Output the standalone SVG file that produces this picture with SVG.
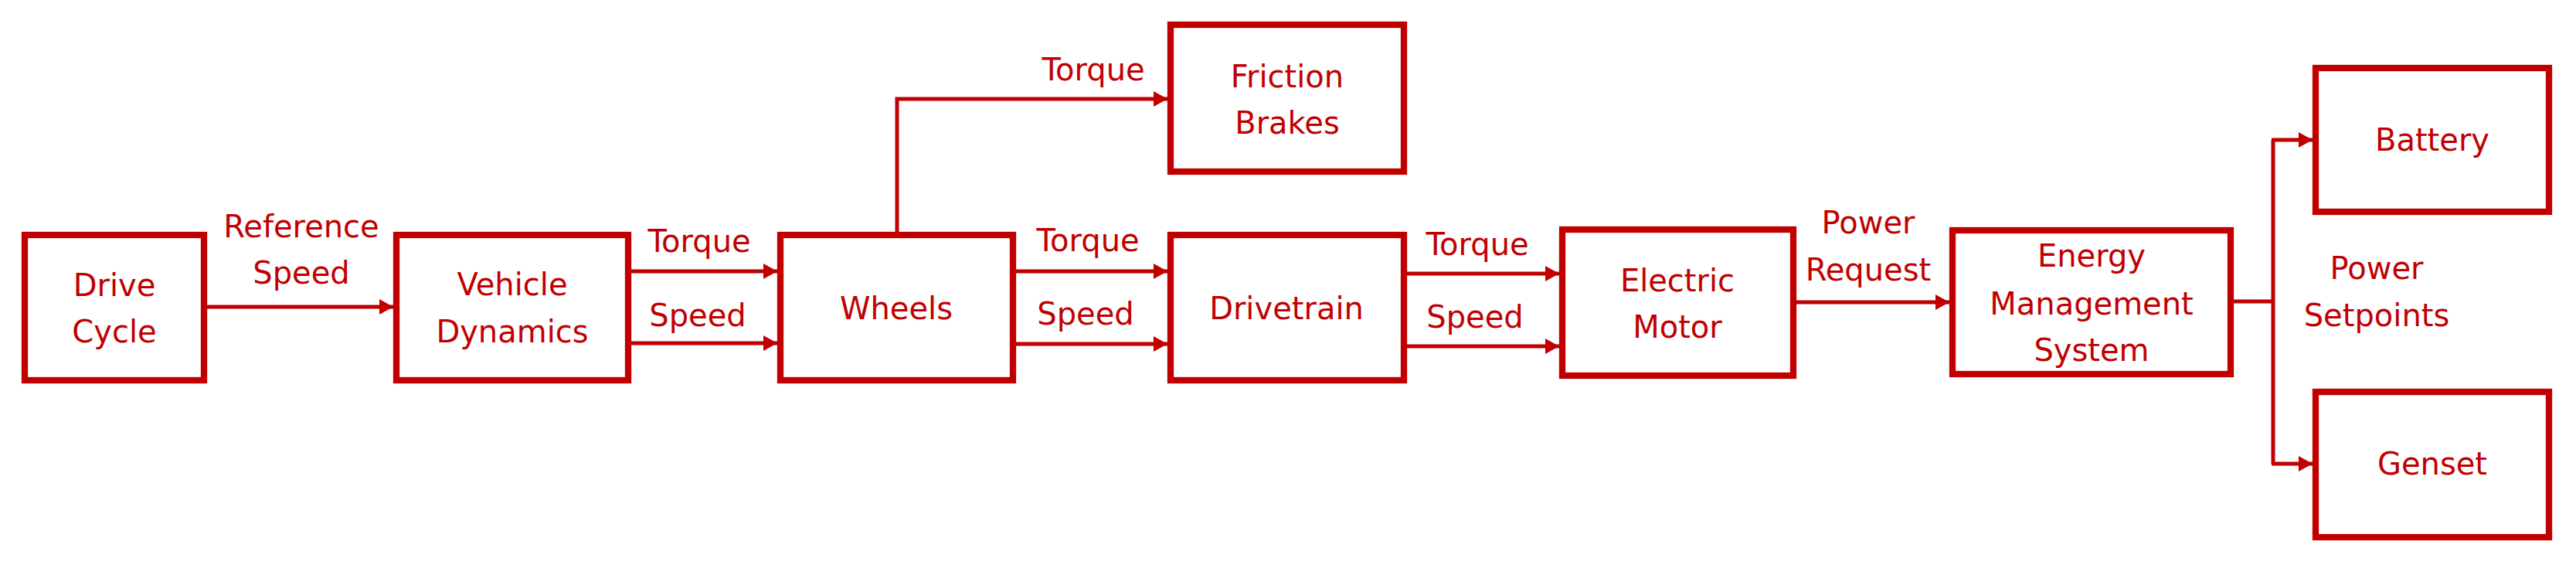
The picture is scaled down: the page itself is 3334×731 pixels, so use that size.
<svg xmlns="http://www.w3.org/2000/svg" width="3334" height="731" viewBox="0 0 3334 731">
<style>
.box{fill:#fff;stroke:#C00000;stroke-width:8.3}
.c{fill:none;stroke:#C00000;stroke-width:5}
text{font-family:"DejaVu Sans",sans-serif;font-size:40px;fill:#C00000;text-anchor:middle}
</style>
<defs>
<marker id="ah" markerUnits="userSpaceOnUse" markerWidth="18" markerHeight="20" refX="18" refY="10" orient="auto" viewBox="0 0 18 20">
<path d="M0,0 L18,10 L0,20 z" fill="#C00000"/>
</marker>
</defs>
<rect width="3334" height="731" fill="#fff"/>
<g id="connectors">
<path class="c" d="M268,397 H509" marker-end="url(#ah)"/>
<path class="c" d="M817,351 H1006" marker-end="url(#ah)"/>
<path class="c" d="M817,444 H1006" marker-end="url(#ah)"/>
<path class="c" d="M1315,351 H1511" marker-end="url(#ah)"/>
<path class="c" d="M1315,445 H1511" marker-end="url(#ah)"/>
<path class="c" d="M1161,300 V128 H1511" marker-end="url(#ah)"/>
<path class="c" d="M1821,354 H2018" marker-end="url(#ah)"/>
<path class="c" d="M1821,448 H2018" marker-end="url(#ah)"/>
<path class="c" d="M2325,391 H2523" marker-end="url(#ah)"/>
<path class="c" d="M2891,390 H2942"/>
<path class="c" d="M2942,181 V600"/>
<path class="c" d="M2940,181 H2993" marker-end="url(#ah)"/>
<path class="c" d="M2940,600 H2993" marker-end="url(#ah)"/>
<text x="390" y="307">Reference</text>
<text x="390" y="367">Speed</text>
<text x="905" y="326">Torque</text>
<text x="903" y="422">Speed</text>
<text x="1415" y="104">Torque</text>
<text x="1408" y="325">Torque</text>
<text x="1405" y="420">Speed</text>
<text x="1912" y="330">Torque</text>
<text x="1909" y="424">Speed</text>
<text x="2418" y="302">Power</text>
<text x="2418" y="363">Request</text>
<text x="3076" y="361">Power</text>
<text x="3076" y="422">Setpoints</text>
</g>
<g id="drive-cycle">
<rect class="box" x="32" y="304" width="232" height="188"/>
<text x="148" y="383">Drive</text>
<text x="148" y="443">Cycle</text>
</g>
<g id="vehicle-dynamics">
<rect class="box" x="513" y="304" width="300" height="188"/>
<text x="663" y="382">Vehicle</text>
<text x="663" y="443">Dynamics</text>
</g>
<g id="wheels">
<rect class="box" x="1010" y="304" width="301" height="188"/>
<text x="1160" y="413">Wheels</text>
</g>
<g id="friction-brakes">
<rect class="box" x="1515" y="32" width="302" height="190"/>
<text x="1666" y="113">Friction</text>
<text x="1666" y="173">Brakes</text>
</g>
<g id="drivetrain">
<rect class="box" x="1515" y="304" width="302" height="188"/>
<text x="1665" y="413">Drivetrain</text>
</g>
<g id="electric-motor">
<rect class="box" x="2022" y="297" width="299" height="189"/>
<text x="2171" y="377">Electric</text>
<text x="2171" y="437">Motor</text>
</g>
<g id="energy-management-system">
<rect class="box" x="2527" y="298" width="360" height="186"/>
<text x="2707" y="345">Energy</text>
<text x="2707" y="407">Management</text>
<text x="2707" y="467">System</text>
</g>
<g id="battery">
<rect class="box" x="2997" y="88" width="302" height="186"/>
<text x="3148" y="195">Battery</text>
</g>
<g id="genset">
<rect class="box" x="2997" y="507" width="302" height="188"/>
<text x="3148" y="614">Genset</text>
</g>
</svg>
